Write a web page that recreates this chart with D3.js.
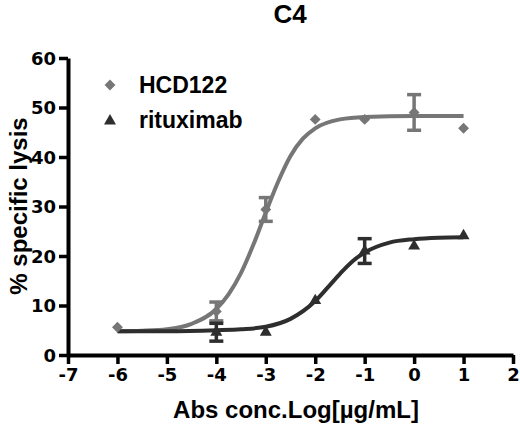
<!DOCTYPE html>
<html>
<head>
<meta charset="utf-8">
<script src="https://cdn.jsdelivr.net/npm/d3@7"></script>
<style>
    body { margin: 0; background: #fff; }
    text { font-family: "Liberation Sans", Arial, sans-serif; font-weight: bold; }
    .tick text { font-family: "DejaVu Sans", sans-serif; font-weight: bold; }
</style>
</head>
<body>
<div id="chart"></div>
<script>
// measured points (log conc, % lysis, error half-width)
const hcdX = [-6, -4, -3, -2, -1, 0, 1];
const hcdY = [5.6, 8.8, 29.4, 47.6, 47.6, 49.0, 45.8];
const hcdErr = [0, 1.9, 2.4, 0, 0, 3.6, 0];

const ritX = [-4, -3, -2, -1, 0, 1];
const ritY = [4.6, 4.6, 11.0, 21.0, 22.0, 24.1];
const ritErr = [1.8, 0, 0, 2.5, 0, 0];

// fitted curves
const hcdCurveX = [-6, -5.5, -5, -4.5, -4, -3.75, -3.5, -3.25, -3, -2.75, -2.5, -2.25, -2, -1.5, -1, 0, 1];
const hcdCurveY = [4.8, 4.9, 5.2, 6.3, 9.3, 12.3, 16.6, 22.3, 28.8, 35.0, 40.2, 43.7, 45.8, 47.6, 48.1, 48.3, 48.3];

const ritCurveX = [-6, -5, -4, -3.5, -3, -2.5, -2, -1.75, -1.5, -1.25, -1, -0.5, 0, 0.5, 1];
const ritCurveY = [4.8, 4.8, 5.0, 5.2, 5.7, 7.3, 10.9, 13.6, 16.4, 18.9, 20.7, 22.7, 23.4, 23.7, 23.8];

const xTicks = [-7, -6, -5, -4, -3, -2, -1, 0, 1, 2];
const yTicks = [0, 10, 20, 30, 40, 50, 60];

const hcdColor = "#767676";
const ritColor = "#2e2e2e";

const width = 520, height = 426;

const svg = d3.select("#chart").append("svg")
    .attr("width", width)
    .attr("height", height);

const x = d3.scaleLinear().domain([-7, 2]).range([68, 513]);
const y = d3.scaleLinear().domain([0, 60]).range([355, 58]);

// axes
const xAxis = svg.append("g")
    .attr("transform", `translate(0,${y(0)})`)
    .call(d3.axisBottom(x).tickValues(xTicks).tickSize(9).tickSizeOuter(0).tickPadding(4)
        .tickFormat(d => d < 0 ? "-" + Math.abs(d) : d));

const yAxis = svg.append("g")
    .attr("transform", `translate(${x(-7)},0)`)
    .call(d3.axisLeft(y).tickValues(yTicks).tickSize(9).tickSizeOuter(0).tickPadding(3));

[xAxis, yAxis].forEach(a => {
    a.select(".domain").attr("stroke", "#000").attr("stroke-width", 4);
    a.selectAll(".tick line").attr("stroke", "#000").attr("stroke-width", 3.5);
    a.selectAll(".tick text").attr("fill", "#000").attr("font-size", 18);
});
yAxis.selectAll(".tick text").attr("dy", "0.36em");

// curves
const line = d3.line()
    .x(d => x(d[0]))
    .y(d => y(d[1]))
    .curve(d3.curveMonotoneX);

svg.append("path")
    .datum(d3.zip(hcdCurveX, hcdCurveY))
    .attr("fill", "none")
    .attr("stroke", hcdColor)
    .attr("stroke-width", 4)
    .attr("d", line);

svg.append("path")
    .datum(d3.zip(ritCurveX, ritCurveY))
    .attr("fill", "none")
    .attr("stroke", ritColor)
    .attr("stroke-width", 4)
    .attr("d", line);

function errorBars(xs, ys, errs, color) {
    const data = d3.zip(xs, ys, errs).filter(d => d[2] > 0);
    const g = svg.append("g").attr("stroke", color).attr("stroke-width", 3.5);
    g.selectAll("line.v").data(data).join("line")
        .attr("x1", d => x(d[0])).attr("x2", d => x(d[0]))
        .attr("y1", d => y(d[1] - d[2])).attr("y2", d => y(d[1] + d[2]));
    [-1, 1].forEach(s => {
        g.selectAll(null).data(data).join("line")
            .attr("x1", d => x(d[0]) - 7).attr("x2", d => x(d[0]) + 7)
            .attr("y1", d => y(d[1] + s * d[2])).attr("y2", d => y(d[1] + s * d[2]));
    });
}

errorBars(hcdX, hcdY, hcdErr, hcdColor);
errorBars(ritX, ritY, ritErr, ritColor);

const diamond = d3.symbol().type(d3.symbolDiamond2).size(75);
const triangle = d3.symbol().type(d3.symbolTriangle).size(62);

svg.append("g").selectAll("path")
    .data(d3.zip(hcdX, hcdY))
    .join("path")
    .attr("transform", d => `translate(${x(d[0])},${y(d[1])})`)
    .attr("d", diamond)
    .attr("fill", hcdColor);

svg.append("g").selectAll("path")
    .data(d3.zip(ritX, ritY))
    .join("path")
    .attr("transform", d => `translate(${x(d[0])},${y(d[1])})`)
    .attr("d", triangle)
    .attr("fill", ritColor);

// legend
const legend = svg.append("g");
legend.append("path").attr("transform", "translate(110,85)").attr("d", diamond).attr("fill", hcdColor);
legend.append("text").attr("x", 139).attr("y", 93).attr("font-size", 23).text("HCD122");
legend.append("path").attr("transform", "translate(110,121)").attr("d", triangle).attr("fill", ritColor);
legend.append("text").attr("x", 139).attr("y", 128).attr("font-size", 23).text("rituximab");

// titles
svg.append("text")
    .attr("x", 290).attr("y", 23)
    .attr("text-anchor", "middle")
    .attr("font-size", 26)
    .text("C4");

svg.append("text")
    .attr("x", 296).attr("y", 418)
    .attr("text-anchor", "middle")
    .attr("font-size", 24)
    .text("Abs conc.Log[µg/mL]");

svg.append("text")
    .attr("transform", "translate(27,206) rotate(-90)")
    .attr("text-anchor", "middle")
    .attr("font-size", 24)
    .text("% specific lysis");
</script>
</body>
</html>
